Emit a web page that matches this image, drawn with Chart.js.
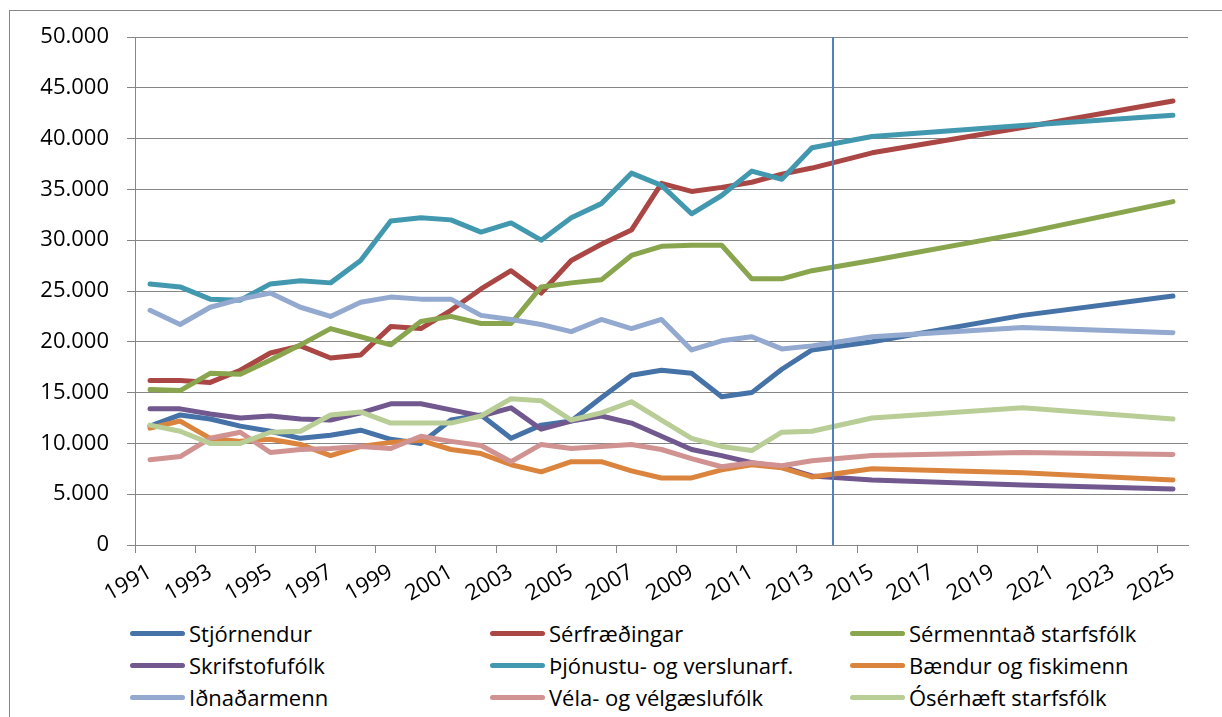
<!DOCTYPE html>
<html lang="is">

<head>
  <meta charset="utf-8">
  <title>Starfsstéttir 1991-2025</title>
  <script src="https://cdn.jsdelivr.net/npm/chart.js@4/dist/chart.umd.min.js"></script>
  <style>
    body { margin: 0; background: #fff; font-family: "Open Sans", sans-serif; }
    #ramma { position: absolute; left: 9px; top: 10px; width: 1400px; height: 900px; border: 1px solid #868686; }
    #wrap { position: absolute; left: 0; top: 0; }
    #lk { position: absolute; left: 130px; top: 617px; display: grid; grid-template-columns: 360px 360px 360px; }
    #lk div { height: 32px; display: flex; align-items: center; font-size: 22px; color: #000; white-space: nowrap; }
    #lk i { display: inline-block; width: 55px; height: 5px; border-radius: 3px; margin-right: 4px; }
  </style>
</head>

<body>
  <div id="ramma"></div>
  <div id="wrap">
    <canvas id="c" width="1222" height="615"></canvas>
  </div>
  <div id="lk"></div>
  <script>
    // ar og flokkar
    var ar = ["1991", "1992", "1993", "1994", "1995", "1996", "1997", "1998", "1999", "2000",
      "2001", "2002", "2003", "2004", "2005", "2006", "2007", "2008", "2009", "2010",
      "2011", "2012", "2013", "2014", "2015", "2016", "2017", "2018", "2019", "2020",
      "2021", "2022", "2023", "2024", "2025"];
    var flokkar = ["Stjórnendur", "Sérfræðingar", "Sérmenntað starfsfólk", "Skrifstofufólk",
      "Þjónustu- og verslunarf.", "Bændur og fiskimenn", "Iðnaðarmenn", "Véla- og vélgæslufólk",
      "Ósérhæft starfsfólk"];
    var litir = ["#4572A7", "#AA4643", "#89A54E", "#71588F", "#4198AF", "#DB843D", "#93A9CF", "#D19392", "#B9CD96"];

    var stjornendur = [11700, 12800, 12400, 11700, 11200, 10500, 10800, 11300, 10400, 10000,
      12300, 12800, 10500, 11800, 12200, 14500, 16700, 17200, 16900, 14600,
      15000, 17300, 19200, null, 20000, null, null, null, null, 22600,
      null, null, null, null, 24500];
    var serfraedingar = [16200, 16200, 16000, 17200, 18900, 19600, 18400, 18700, 21500, 21300,
      23100, 25200, 27000, 24800, 28000, 29600, 31000, 35600, 34800, 35200,
      35700, 36500, 37100, null, 38600, null, null, null, null, 41100,
      null, null, null, null, 43700];
    var sermenntad = [15300, 15200, 16900, 16800, 18200, 19700, 21300, 20500, 19700, 22000,
      22500, 21800, 21800, 25400, 25800, 26100, 28500, 29400, 29500, 29500,
      26200, 26200, 27000, null, 28000, null, null, null, null, 30700,
      null, null, null, null, 33800];
    var skrifstofa = [13400, 13400, 12900, 12500, 12700, 12400, 12300, 13000, 13900, 13900,
      13300, 12700, 13500, 11400, 12200, 12700, 12000, 10700, 9400, 8800,
      8100, 7700, 6800, null, 6400, null, null, null, null, 5900,
      null, null, null, null, 5500];
    var thjonusta = [25700, 25400, 24200, 24100, 25700, 26000, 25800, 28000, 31900, 32200,
      32000, 30800, 31700, 30000, 32200, 33600, 36600, 35400, 32600, 34400,
      36800, 36000, 39100, null, 40200, null, null, null, null, 41300,
      null, null, null, null, 42300];
    var baendur = [11500, 12200, 10500, 10200, 10400, 9900, 8800, 9700, 10100, 10300,
      9400, 9000, 7900, 7200, 8200, 8200, 7300, 6600, 6600, 7400,
      7900, 7600, 6700, null, 7500, null, null, null, null, 7100,
      null, null, null, null, 6400];
    var idnadarmenn = [23100, 21700, 23400, 24200, 24800, 23400, 22500, 23900, 24400, 24200,
      24200, 22600, 22200, 21700, 21000, 22200, 21300, 22200, 19200, 20100,
      20500, 19300, 19600, null, 20500, null, null, null, null, 21400,
      null, null, null, null, 20900];
    var vela = [8400, 8700, 10500, 11100, 9100, 9400, 9500, 9700, 9500, 10700,
      10200, 9800, 8200, 9900, 9500, 9700, 9900, 9400, 8500, 7700,
      8100, 7800, 8300, null, 8800, null, null, null, null, 9100,
      null, null, null, null, 8900];
    var oserhaeft = [11800, 11200, 10000, 10000, 11100, 11200, 12800, 13100, 12000, 12000,
      12000, 12700, 14400, 14200, 12300, 13000, 14100, 12300, 10500, 9700,
      9300, 11100, 11200, null, 12500, null, null, null, null, 13500,
      null, null, null, null, 12400];
    var radir = [stjornendur, serfraedingar, sermenntad, skrifstofa, thjonusta, baendur, idnadarmenn, vela, oserhaeft];

    // skil milli rauntalna og spar (milli 2013 og 2014)
    var skil = 22.7;

    var grar = "#868686";

    var skilalina = {
      id: 'skilalina',
      afterDatasetsDraw: function (chart) {
        var ctx = chart.ctx;
        var x = chart.scales.x.getPixelForValue(skil);
        ctx.save();
        ctx.strokeStyle = "#4F81BD";
        ctx.lineWidth = 2;
        ctx.beginPath();
        ctx.moveTo(x, chart.chartArea.top);
        ctx.lineTo(x, chart.chartArea.bottom);
        ctx.stroke();
        ctx.restore();
      }
    };

    var datasets = radir.map(function (d, i) {
      return {
        label: flokkar[i], data: d, borderColor: litir[i], backgroundColor: litir[i],
        borderWidth: 5, pointRadius: 0, spanGaps: true, fill: false, tension: 0,
        borderCapStyle: 'round', borderJoinStyle: 'round', order: -i
      };
    });

    var cc = new Chart(document.getElementById('c'), {
      type: 'line',
      data: { labels: ar, datasets: datasets },
      plugins: [skilalina],
      options: {
        responsive: false,
        animation: false,
        layout: { padding: { top: 37, right: 34, left: 0, bottom: 0 } },
        plugins: { legend: { display: false }, tooltip: { enabled: false } },
        scales: {
          x: {
            offset: true,
            afterFit: function (s) { s.height = 70; },
            border: { display: true, color: grar, width: 1 },
            grid: {
              offset: true, drawOnChartArea: false, tickLength: 8,
              tickColor: function (c) { return c.index % 2 === 0 ? grar : 'rgba(0,0,0,0)'; }
            },
            ticks: {
              autoSkip: false, minRotation: 30, maxRotation: 30, padding: 6, color: '#000',
              font: { family: 'Open Sans', size: 22 },
              callback: function (v, i) { return i % 2 === 0 ? ar[i] : ''; }
            }
          },
          y: {
            min: 0, max: 50000,
            afterFit: function (s) { s.width = 135; },
            border: { display: true, color: grar, width: 1 },
            grid: { color: grar, tickLength: 8, lineWidth: 1 },
            ticks: {
              stepSize: 5000, padding: 18, color: '#000',
              font: { family: 'Open Sans', size: 22 },
              callback: function (v) { return String(v).replace(/\B(?=(\d{3})+(?!\d))/g, '.'); }
            }
          }
        }
      }
    });

    // skyringar i thremur dalkum
    var lk = document.getElementById('lk');
    cc.data.datasets.forEach(function (d) {
      var el = document.createElement('div');
      var s = document.createElement('i');
      s.style.background = d.borderColor;
      el.appendChild(s);
      el.appendChild(document.createTextNode(d.label));
      lk.appendChild(el);
    });
  </script>
</body>

</html>
